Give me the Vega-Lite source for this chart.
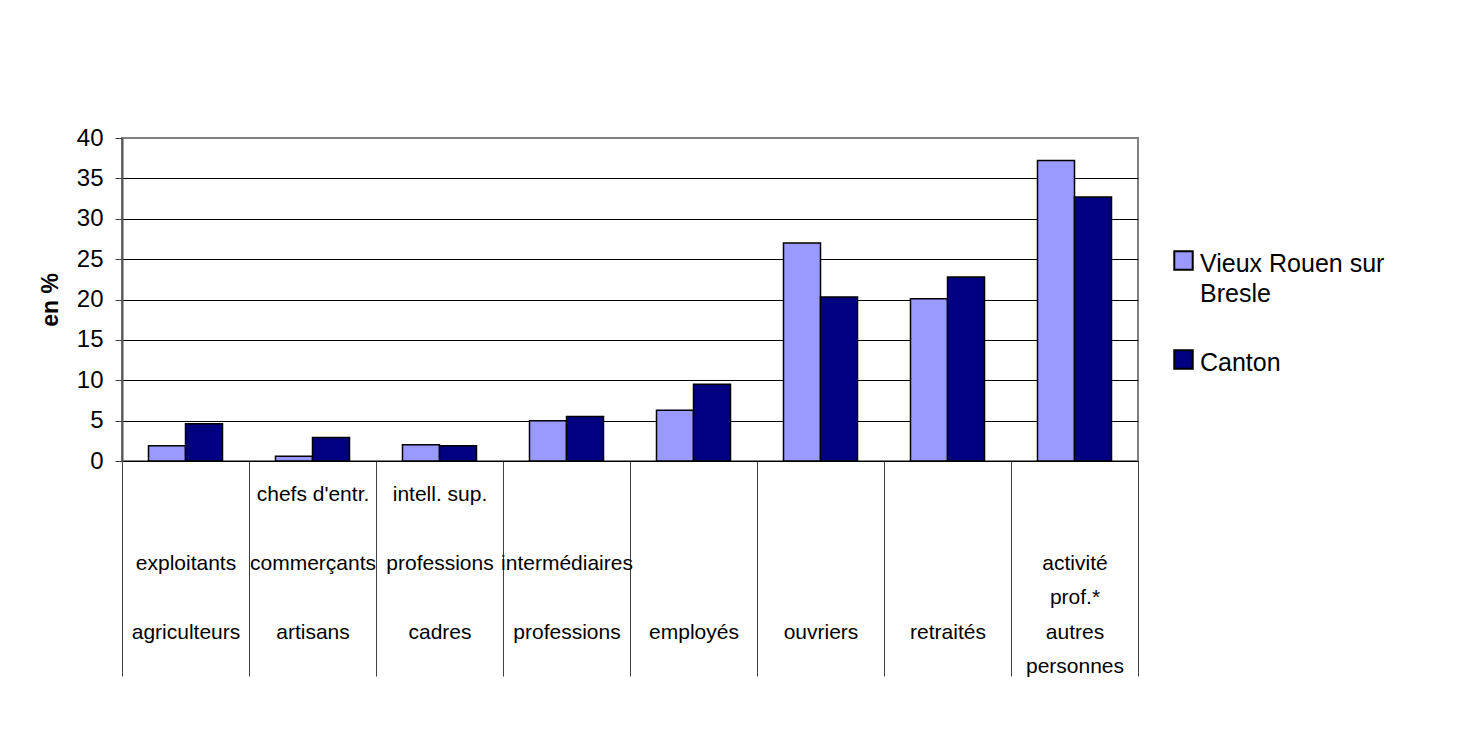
{
  "$schema": "https://vega.github.io/schema/vega-lite/v6.json",
  "width": 1016,
  "height": 323,
  "autosize": {"type": "none"},
  "padding": {"left": 122, "top": 138, "right": 343, "bottom": 273},
  "background": "white",
  "config": {
    "font": "Liberation Sans",
    "view": {"stroke": "#808080", "strokeWidth": 2}
  },
  "data": {
    "values": [
      {"categorie": "agriculteurs", "zone": "Vieux Rouen sur Bresle", "pourcentage": 1.9},
      {"categorie": "agriculteurs", "zone": "Canton", "pourcentage": 4.6},
      {"categorie": "artisans", "zone": "Vieux Rouen sur Bresle", "pourcentage": 0.6},
      {"categorie": "artisans", "zone": "Canton", "pourcentage": 2.9},
      {"categorie": "cadres", "zone": "Vieux Rouen sur Bresle", "pourcentage": 2.0},
      {"categorie": "cadres", "zone": "Canton", "pourcentage": 1.9},
      {"categorie": "professions intermédiaires", "zone": "Vieux Rouen sur Bresle", "pourcentage": 5.0},
      {"categorie": "professions intermédiaires", "zone": "Canton", "pourcentage": 5.5},
      {"categorie": "employés", "zone": "Vieux Rouen sur Bresle", "pourcentage": 6.3},
      {"categorie": "employés", "zone": "Canton", "pourcentage": 9.5},
      {"categorie": "ouvriers", "zone": "Vieux Rouen sur Bresle", "pourcentage": 27.0},
      {"categorie": "ouvriers", "zone": "Canton", "pourcentage": 20.3},
      {"categorie": "retraités", "zone": "Vieux Rouen sur Bresle", "pourcentage": 20.1},
      {"categorie": "retraités", "zone": "Canton", "pourcentage": 22.8},
      {"categorie": "autres personnes", "zone": "Vieux Rouen sur Bresle", "pourcentage": 37.2},
      {"categorie": "autres personnes", "zone": "Canton", "pourcentage": 32.7}
    ]
  },
  "mark": {"type": "bar", "stroke": "black", "strokeWidth": 1.5},
  "encoding": {
    "x": {
      "field": "categorie",
      "type": "nominal",
      "sort": null,
      "scale": {"paddingInner": 0, "paddingOuter": 0},
      "axis": {
        "title": null,
        "grid": false,
        "tickBand": "extent",
        "tickSize": 215,
        "tickColor": "#404040",
        "tickWidth": 1,
        "domainColor": "black",
        "domainWidth": 1,
        "labelAngle": 0,
        "labelFontSize": 21,
        "labelColor": "black",
        "labelBaseline": "top",
        "labelLineHeight": 34.5,
        "labelPadding": -193,
        "labelLimit": 0,
        "labelOverlap": false,
        "labelExpr": "{'agriculteurs': ['\u200b', '\u200b', 'exploitants', '\u200b', 'agriculteurs'], 'artisans': [\"chefs d'entr.\", '\u200b', 'commerçants', '\u200b', 'artisans'], 'cadres': ['intell. sup.', '\u200b', 'professions', '\u200b', 'cadres'], 'professions intermédiaires': ['\u200b', '\u200b', 'intermédiaires', '\u200b', 'professions'], 'employés': ['\u200b', '\u200b', '\u200b', '\u200b', 'employés'], 'ouvriers': ['\u200b', '\u200b', '\u200b', '\u200b', 'ouvriers'], 'retraités': ['\u200b', '\u200b', '\u200b', '\u200b', 'retraités'], 'autres personnes': ['\u200b', '\u200b', 'activité', 'prof.*', 'autres', 'personnes']}[datum.value]"
      }
    },
    "xOffset": {
      "field": "zone",
      "type": "nominal",
      "sort": ["Vieux Rouen sur Bresle", "Canton"],
      "scale": {"paddingInner": 0, "paddingOuter": 0.716}
    },
    "y": {
      "field": "pourcentage",
      "type": "quantitative",
      "scale": {"domain": [0, 40], "nice": false},
      "axis": {
        "title": "en %",
        "titleFontSize": 23,
        "titleFontWeight": "bold",
        "titleColor": "black",
        "titlePadding": 14,
        "values": [0, 5, 10, 15, 20, 25, 30, 35, 40],
        "tickSize": 7,
        "tickColor": "#404040",
        "domainColor": "#555555",
        "domainWidth": 2,
        "labelFontSize": 24,
        "labelColor": "black",
        "labelPadding": 12,
        "gridColor": {"condition": {"test": "datum.value == 40", "value": "#808080"}, "value": "black"},
        "gridWidth": 1,
        "gridOpacity": 1
      }
    },
    "color": {
      "field": "zone",
      "type": "nominal",
      "sort": ["Vieux Rouen sur Bresle", "Canton"],
      "scale": {"domain": ["Vieux Rouen sur Bresle", "Canton"], "range": ["#9999FF", "#000080"]},
      "legend": {
        "title": null,
        "orient": "none",
        "legendX": 1049,
        "legendY": 110,
        "padding": 0,
        "labelFontSize": 25,
        "labelColor": "black",
        "labelLimit": 0,
        "labelExpr": "datum.label == 'Vieux Rouen sur Bresle' ? ['Vieux Rouen sur', 'Bresle'] : datum.label",
        "labelLineHeight": 30,
        "labelBaseline": "top",
        "labelOffset": 4,
        "symbolType": "square",
        "symbolSize": 340,
        "symbolStrokeColor": "black",
        "symbolStrokeWidth": 2,
        "symbolOpacity": 1,
        "rowPadding": 39,
        "encode": {"labels": {"update": {"dy": {"value": -9}, "lineHeight": {"value": 30}}}}
      }
    }
  }
}
